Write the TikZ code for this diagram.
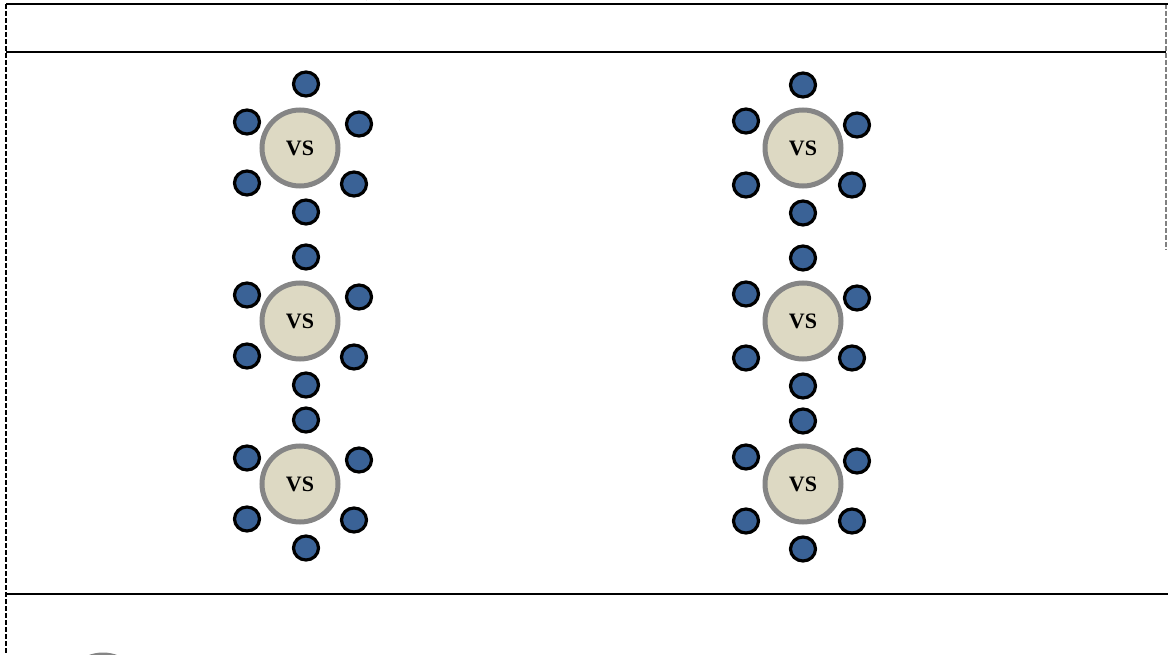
\documentclass[tikz,border=0pt]{standalone}
\usepackage{fontspec}
\setmainfont{Liberation Serif}
\usetikzlibrary{shapes.geometric}
\definecolor{seatblue}{HTML}{3A6296}
\definecolor{vsfill}{HTML}{DDD9C3}
\definecolor{vsborder}{HTML}{858585}
\tikzset{
  vsbox/.style={circle, draw=vsborder, line width=5pt, fill=vsfill, minimum size=76pt, inner sep=0pt, font=\fontsize{22}{24}\selectfont\bfseries},
  seatbox/.style={ellipse, draw=black, line width=3.2pt, fill=seatblue, minimum width=25pt, minimum height=24pt, inner sep=0pt},
  rule/.style={draw=black, line width=2.8pt},
  dashrule/.style={draw=black, line width=2.6pt, dash pattern=on 5pt off 2pt},
}
\begin{document}
\begin{tikzpicture}[x=1pt,y=-1pt]
\useasboundingbox (0,0) rectangle (1168,655);
% frame lines
\coordinate (tl) at (6,4);
\coordinate (tr) at (1168,4);
\coordinate (hl) at (6,52);
\coordinate (hr) at (1166,52);
\coordinate (bl) at (6,594);
\coordinate (br) at (1168,594);
\coordinate (lb) at (6,655);
\coordinate (rt) at (1166,4);
\coordinate (rb) at (1166,250);
\draw[dashrule] (tl) -- (lb);
\draw[dashrule, draw=gray] (rt) -- (rb);
\draw[rule] (tl) -- (tr);
\draw[rule] (hl) -- (hr);
\draw[rule] (bl) -- (br);
% tiny marks at top
\draw[line width=1pt] (366,0) arc[start angle=180, end angle=270, radius=3];
\draw[line width=1pt] (399,0) arc[start angle=180, end angle=270, radius=3];
% clusters, left column
\foreach \r/\cy in {1/148, 2/321, 3/484} {
  \node[vsbox] (vsL\r) at (300,\cy) {VS};
  \node[seatbox] (L\r t)  at (306,\cy-64) {};
  \node[seatbox] (L\r lu) at (247,\cy-26) {};
  \node[seatbox] (L\r ru) at (359,\cy-24) {};
  \node[seatbox] (L\r ll) at (247,\cy+35) {};
  \node[seatbox] (L\r rl) at (354,\cy+36) {};
  \node[seatbox] (L\r b)  at (306,\cy+64) {};
}
% right column
\foreach \r/\cy in {1/148, 2/321, 3/484} {
  \node[vsbox] (vsR\r) at (803,\cy) {VS};
  \node[seatbox] (R\r t)  at (803,\cy-63) {};
  \node[seatbox] (R\r lu) at (746,\cy-27) {};
  \node[seatbox] (R\r ru) at (857,\cy-23) {};
  \node[seatbox] (R\r ll) at (746,\cy+37) {};
  \node[seatbox] (R\r rl) at (852,\cy+37) {};
  \node[seatbox] (R\r b)  at (803,\cy+65) {};
}
% partially visible circle at the bottom
\begin{scope}
\clip (0,0) rectangle (1168,655);
\node[vsbox] (vsB) at (103,693) {};
\end{scope}
\end{tikzpicture}
\end{document}
